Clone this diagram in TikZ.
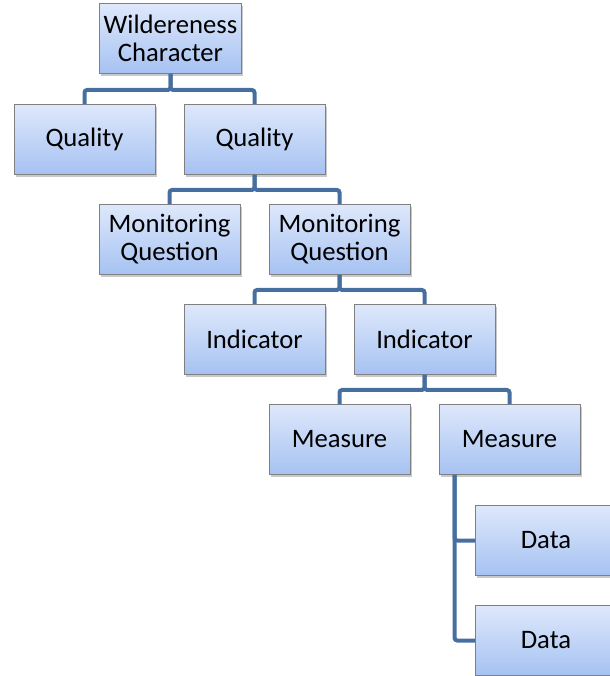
\documentclass[tikz,border=0pt]{standalone}
\usepackage{fontspec}
\setmainfont{Carlito}
\usetikzlibrary{shadows,calc}

\definecolor{boxtop}{RGB}{222,232,251}
\definecolor{boxbottom}{RGB}{166,194,242}
\definecolor{boxline}{RGB}{128,128,128}
\definecolor{linkblue}{RGB}{70,111,160}

\begin{document}
\begin{tikzpicture}
    [x=0.75pt, y=-0.75pt,
    box/.style ={draw = boxline, line width = 0.7pt,
        top color = boxtop, bottom color = boxbottom,
        minimum width = 105.75pt, minimum height = 52.5pt,
        align = center, font = \fontsize{20}{21}\selectfont,
        drop shadow = {shadow xshift = 1.2pt, shadow yshift = -1.5pt,
            opacity = 0.3, fill = black!70}},
    link/.style ={draw = linkblue, line width = 3pt, rounded corners = 2pt}
    ]
    \useasboundingbox (0,0) rectangle (610,676);
    % the levels of the hierarchy
    \node (wild) [box] at (170.5,38.5) {Wildereness\\Character};
    \node (qual1) [box] at (84.5,139.5) {Quality};
    \node (qual2) [box] at (254.5,139.5) {Quality};
    \node (quest1) [box] at (169.5,239.5) {Monitoring\\Question};
    \node (quest2) [box] at (339.5,239.5) {Monitoring\\Question};
    \node (ind1) [box] at (254.5,339.5) {Indicator};
    \node (ind2) [box] at (424.5,339.5) {Indicator};
    \node (meas1) [box] at (339.5,439.5) {Measure};
    \node (meas2) [box] at (509.5,439.5) {Measure};
    \node (data1) [box] at (546,540.5) {Data};
    \node (data2) [box] at (546,640.5) {Data};
    % connectors
    \draw [link] (wild.south) -- ++(0,16) -| (qual1.north);
    \draw [link] (wild.south) -- ++(0,16) -| (qual2.north);
    \draw [link] (qual2.south) -- ++(0,15) -| (quest1.north);
    \draw [link] (qual2.south) -- ++(0,15) -| (quest2.north);
    \draw [link] (quest2.south) -- ++(0,15) -| (ind1.north);
    \draw [link] (quest2.south) -- ++(0,15) -| (ind2.north);
    \draw [link] (ind2.south) -- ++(0,15) -| (meas1.north);
    \draw [link] (ind2.south) -- ++(0,15) -| (meas2.north);
    \coordinate (trunk) at ($(meas2.south west)+(16,0)$);
    \draw [link] (trunk) |- (data1.west);
    \draw [link] (trunk) |- (data2.west);
\end{tikzpicture}
\end{document}
